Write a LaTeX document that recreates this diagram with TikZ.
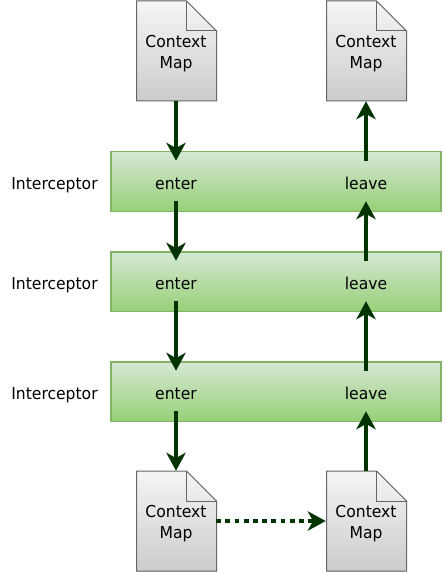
\documentclass[tikz,border=0pt]{standalone}
\usepackage{fontspec}
\setmainfont{DejaVu Sans}[FakeStretch=0.95]
\usetikzlibrary{arrows.meta}
\definecolor{flow}{HTML}{003300}
\definecolor{bandtop}{HTML}{D5E8D4}
\definecolor{bandbot}{HTML}{97D077}
\definecolor{bandline}{HTML}{82B366}
\tikzset{
	band/.style={draw=bandline,line width=1pt,top color=bandtop,bottom color=bandbot,minimum width=247.5pt,minimum height=44.5pt,inner sep=0pt},
	doc/.style={draw=black!60,line width=0.75pt,top color=black!4,bottom color=black!20},
	doctext/.style={align=center,font=\fontsize{12.3pt}{15.75pt}\selectfont,inner sep=0pt,minimum width=60pt,minimum height=75pt},
	lbl/.style={font=\fontsize{12.3pt}{15pt}\selectfont,inner sep=0pt,minimum height=30pt,text height=12pt,text depth=0pt},
	solidflow/.style={draw=flow,line width=3pt,-{Stealth[length=13.5pt,width=14.5pt,inset=4pt]}},
	dotflow/.style={solidflow,dash pattern=on 3.5pt off 3.4pt}
}
\newcommand{\contextmap}[2]{
	\filldraw[doc,shift={(#2)}](-39.5,-50)--(10.5,-50)--(40.5,-20)--(40.5,50)--(-39.5,50)--cycle;
	\draw[draw=black!60,line width=0.75pt,shift={(#2)}](10.5,-50)--(10.5,-20)--(40.5,-20);
	\node[doctext](#1)at(#2){\rule{0pt}{13pt}Context\\Map};
}
\begin{document}
\begin{tikzpicture}[x=0.75pt,y=-0.75pt]
	\useasboundingbox(0,0)rectangle(444,574);
	\node[band](band1)at(276,181.5){};
	\node[band](band2)at(276,281.5){};
	\node[band](band3)at(276,391.5){};
	\contextmap{top1}{176,51}
	\contextmap{top2}{366,51}
	\contextmap{bot1}{176,521}
	\contextmap{bot2}{366,521}
	\node[lbl](enter1)at(176,181){enter};
	\node[lbl](enter2)at(176,281){enter};
	\node[lbl](enter3)at(176,391){enter};
	\node[lbl](leave1)at(366,181){leave};
	\node[lbl](leave2)at(366,281){leave};
	\node[lbl](leave3)at(366,391){leave};
	\node[lbl](name1)at(54.5,181){Interceptor};
	\node[lbl](name2)at(54.5,281){Interceptor};
	\node[lbl](name3)at(54.5,391){Interceptor};
	\draw[solidflow](top1.south)--(enter1.north);
	\draw[solidflow](enter1.south)--(enter2.north);
	\draw[solidflow](enter2.south)--(enter3.north);
	\draw[solidflow](enter3.south)--(bot1.north);
	\draw[solidflow](bot2.north)--(leave3.south);
	\draw[solidflow](leave3.north)--(leave2.south);
	\draw[solidflow](leave2.north)--(leave1.south);
	\draw[solidflow](leave1.north)--(top2.south);
	\draw[dotflow](bot1.east)--(bot2.west);
\end{tikzpicture}
\end{document}
